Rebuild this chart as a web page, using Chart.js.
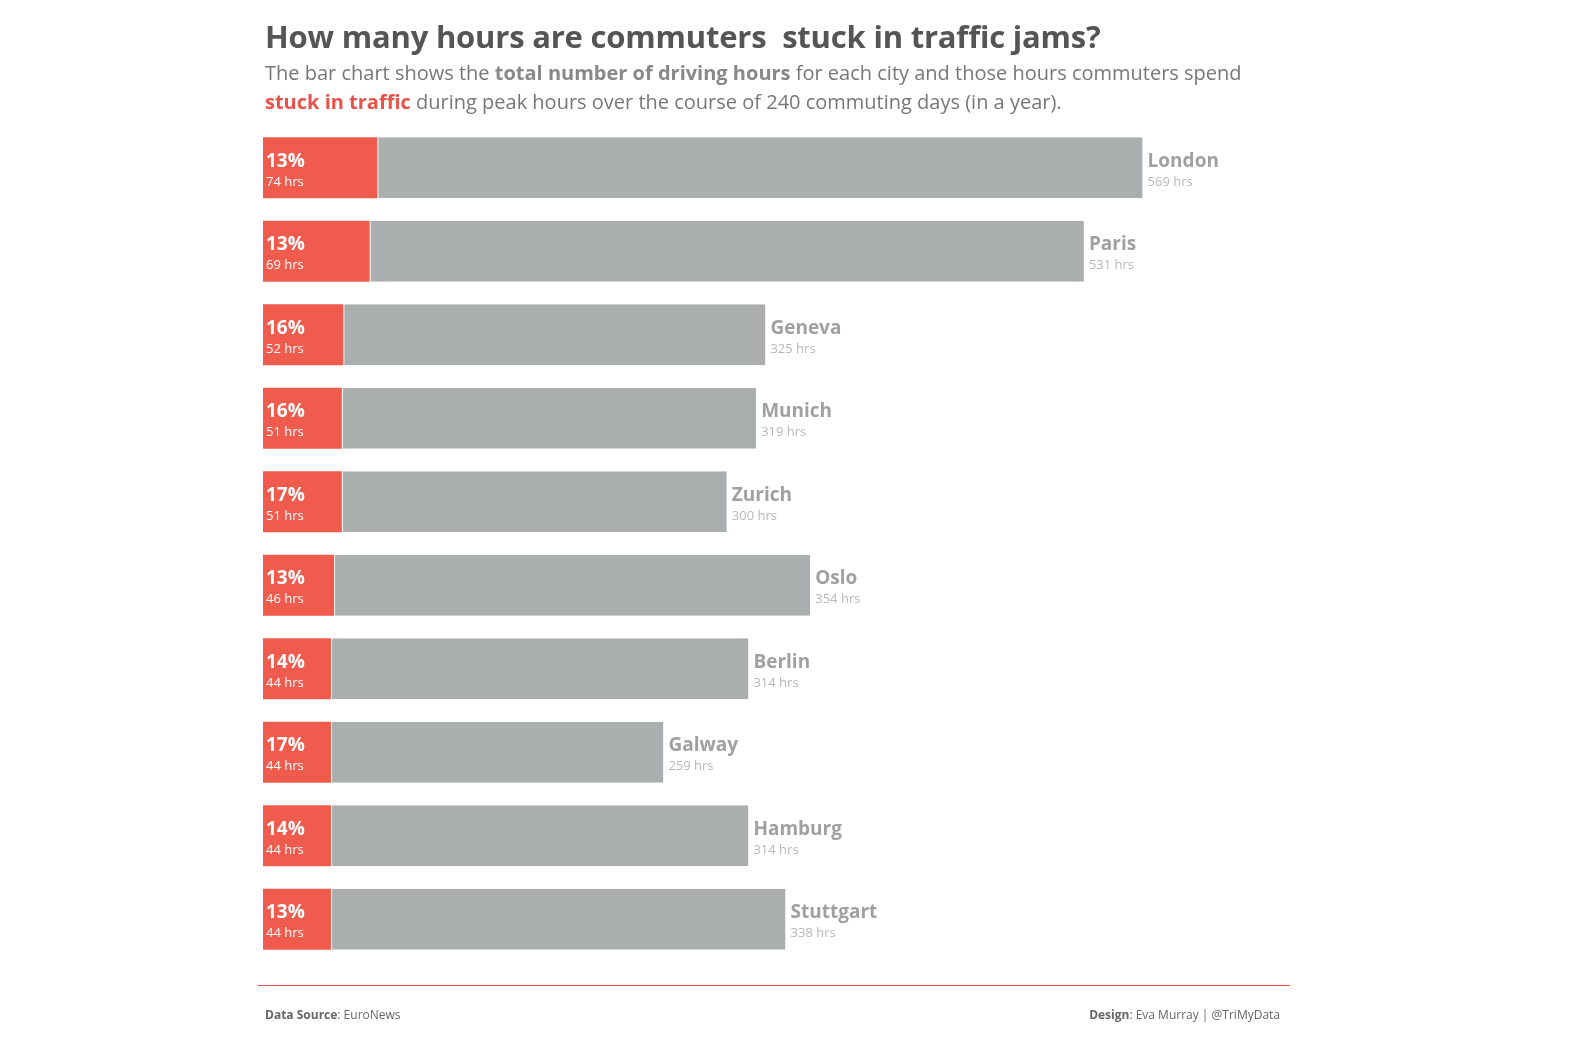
<!DOCTYPE html>
<html><head><meta charset="utf-8">
<script src="https://cdn.jsdelivr.net/npm/chart.js@4"></script>
<style>
body{margin:0;background:#fff;font-family:"Open Sans",sans-serif;}
#wrap{position:relative;width:1574px;height:1041px;}
canvas{position:absolute;left:0;top:0;}
.t{position:absolute;left:265px;top:15px;font-size:31px;font-weight:700;color:#555;white-space:pre;letter-spacing:-0.2px;}
.s{position:absolute;left:265px;top:58px;font-size:20px;color:#777;line-height:29px;width:1010px;}
.s b.g{color:#888}.s b.r{color:#e8524a}
.line{position:absolute;left:258px;top:985px;width:1032px;height:1px;background:#e8524a;}
.f{position:absolute;top:1006px;font-size:12px;color:#666;}
</style></head><body>
<div id="wrap">
<canvas id="c" width="1574" height="1041"></canvas>
<div class="t">How many hours are commuters  stuck in traffic jams?</div>
<div class="s">The bar chart shows the <b class="g">total number of driving hours</b> for each city and those hours commuters spend <b class="r">stuck in traffic</b> during peak hours over the course of 240 commuting days (in a year).</div>
<div class="line"></div>
<div class="f" style="left:265px"><b>Data Source</b>: EuroNews</div>
<div class="f" style="right:294px"><b>Design</b>: Eva Murray | @TriMyData</div>
</div>
<script>
const cities=["London","Paris","Geneva","Munich","Zurich","Oslo","Berlin","Galway","Hamburg","Stuttgart"];
const totalHrs=[569,531,325,319,300,354,314,259,314,338];
const stuckHrs=[74,69,52,51,51,46,44,44,44,44];
const stuckPct=["13%","13%","16%","16%","17%","13%","14%","17%","14%","13%"];
const rest=totalHrs.map((t,i)=>t-stuckHrs[i]);
const labels={id:'lbl',afterDatasetsDraw(ch){
 const c=ch.ctx,m0=ch.getDatasetMeta(0),m1=ch.getDatasetMeta(1);
 c.save();c.textBaseline='alphabetic';
 m0.data.forEach((b,i)=>{
  const y=b.y, xl=b.base+3;
  c.fillStyle='#fff';c.font='bold 19px "Open Sans"';c.fillText(stuckPct[i],xl,y-1);
  c.font='13px "Open Sans"';c.fillText(stuckHrs[i]+' hrs',xl,y+18);
  const xe=m1.data[i].x+5;
  c.fillStyle='#a0a0a0';c.font='bold 19px "Open Sans"';c.fillText(cities[i],xe,y-1);
  c.fillStyle='#b8b8b8';c.font='13px "Open Sans"';c.fillText(totalHrs[i]+' hrs',xe,y+18);
 });
 c.restore();}};
new Chart(document.getElementById('c'),{type:'bar',
 data:{labels:cities,datasets:[
  {data:stuckHrs,backgroundColor:'#ef5b4c',borderWidth:0,barPercentage:0.731,categoryPercentage:1},
  {data:rest,backgroundColor:'#abaeae',borderColor:'#fff',borderWidth:{left:1,right:0,top:0,bottom:0},borderSkipped:false,barPercentage:0.731,categoryPercentage:1}]},
 options:{indexAxis:'y',responsive:false,animation:false,
  layout:{padding:{left:263,top:126,right:82,bottom:80}},
  plugins:{legend:{display:false},tooltip:{enabled:false}},
  scales:{x:{stacked:true,min:0,max:795,display:false},y:{stacked:true,display:false}}},
 plugins:[labels]});
</script></body></html>
